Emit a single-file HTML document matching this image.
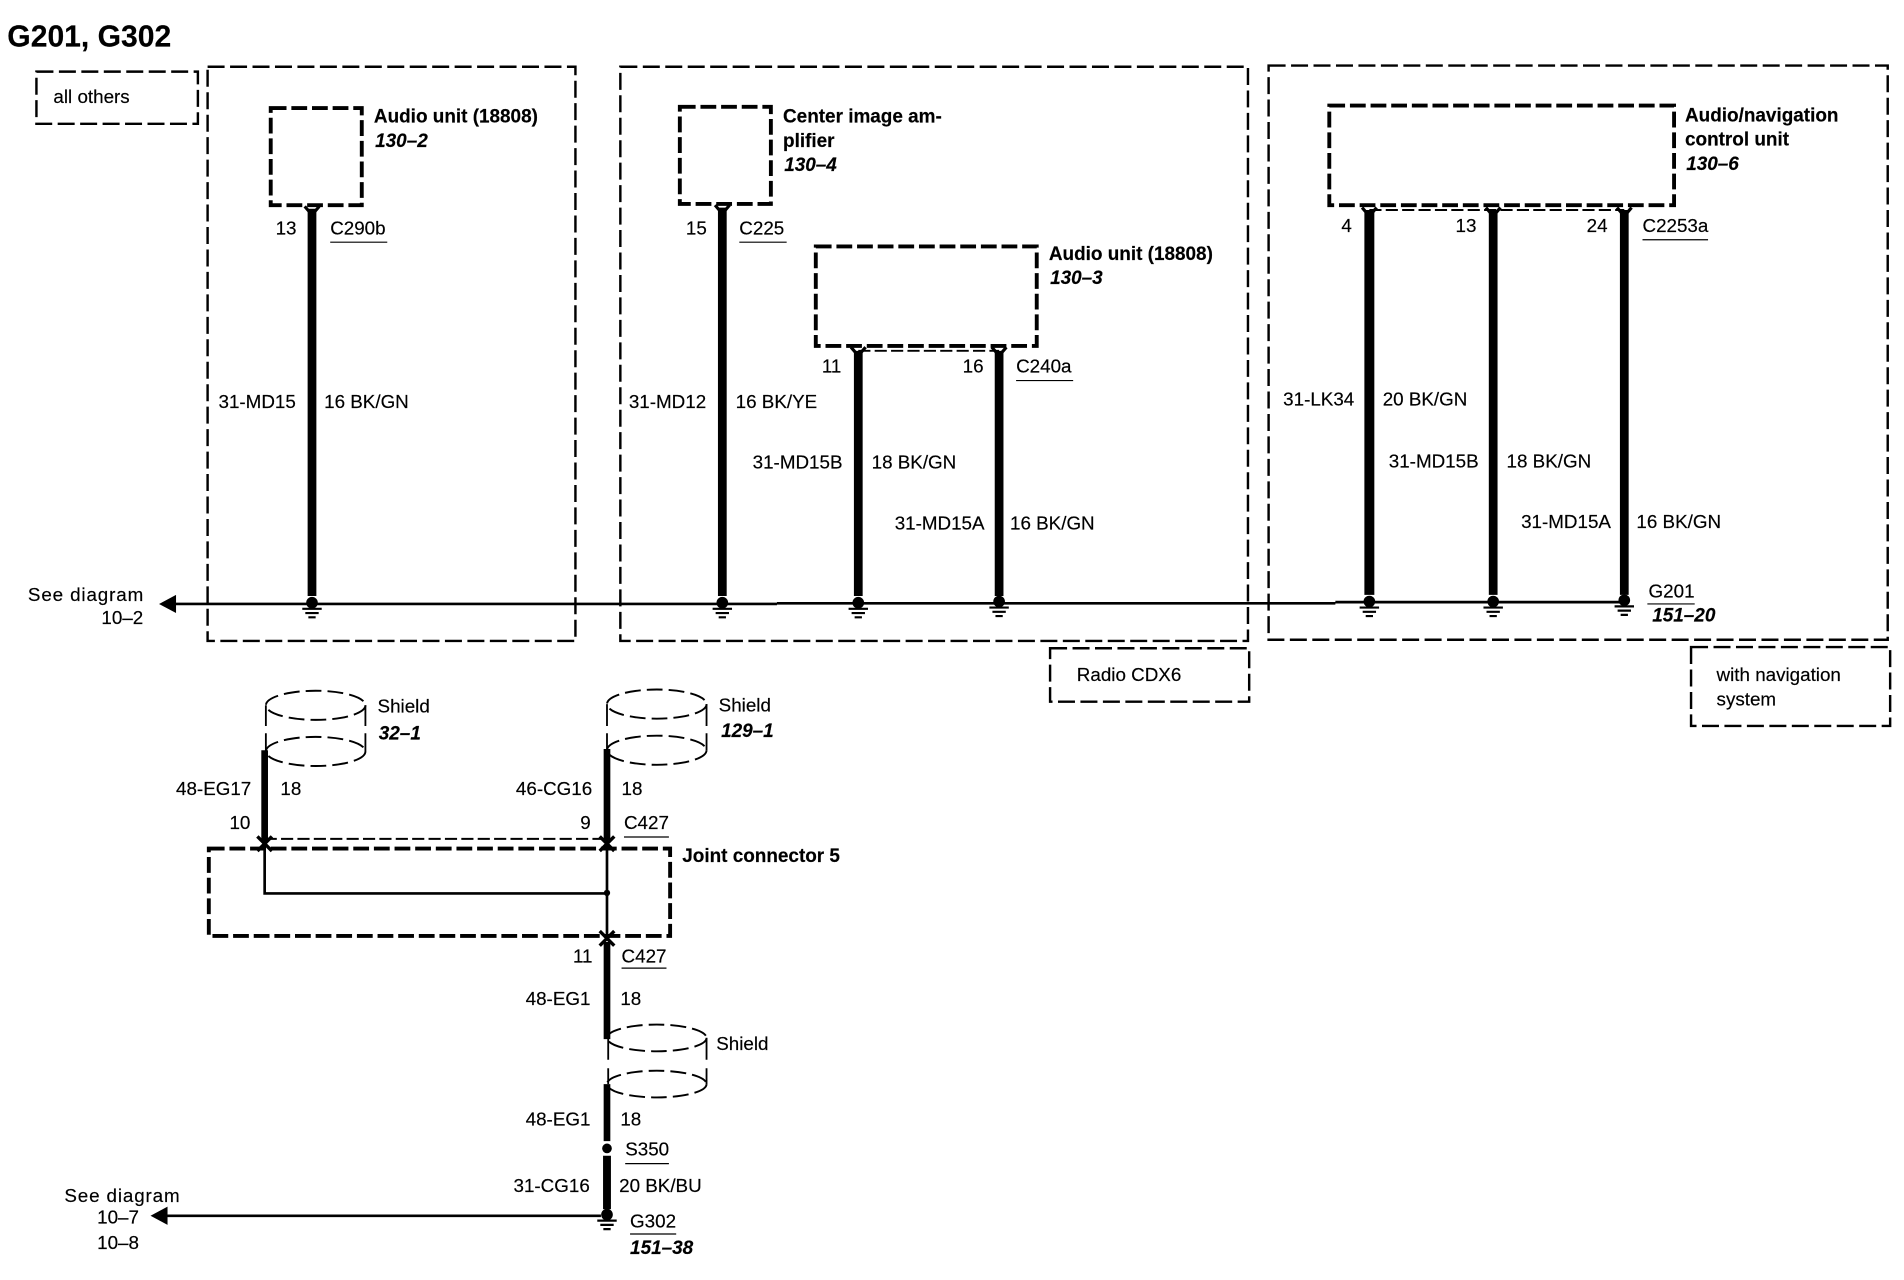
<!DOCTYPE html>
<html><head><meta charset="utf-8"><style>
html,body{margin:0;padding:0;background:#fff}
svg{display:block}
text{font-family:"Liberation Sans",Arial,sans-serif;font-size:15.5px;fill:#000;stroke:#000;stroke-width:.14px}
.b{font-weight:bold;font-size:15.6px}
.bi{font-weight:bold;font-style:italic;font-size:15.6px}
.o{fill:none;stroke:#000;stroke-width:2;stroke-dasharray:14 4.5}
.t{fill:none;stroke:#000;stroke-width:3.2;stroke-dasharray:13 4}
.d{fill:none;stroke:#000;stroke-width:1.6;stroke-dasharray:10 3.5}
.w{stroke:#000;stroke-width:7.2}
.n{stroke:#000;stroke-width:5.5}
.l{stroke:#000;stroke-width:2.2;fill:none}
.u{stroke:#000;stroke-width:1}
.c{fill:none;stroke:#000;stroke-width:1.6;stroke-dasharray:13 5}
.s{stroke:#000;stroke-width:1.5}
</style></head><body>
<svg xmlns="http://www.w3.org/2000/svg" width="1904" height="1280" viewBox="0 0 1568.4 1054.4">
<defs>
<g id="g"><circle cx="0" cy="-0.5" r="4.8" fill="#000"/><path d="M-8 4.5H8M-5.5 8H5.5M-3 11.5H3" stroke="#000" stroke-width="1.8"/></g>
<path id="f" d="M-6 0L0 7L6 0" fill="none" stroke="#000" stroke-width="2.6"/>
<path id="x" d="M-6 -6L6 6M6 -6L-6 6" fill="none" stroke="#000" stroke-width="2.8"/>
</defs>
<rect width="1568.4" height="1054.4" fill="#fff"/>
<text x="6" y="38.5" class="b" style="font-size:24.8px">G201, G302</text>

<!-- main ground line -->
<path class="l" d="M142 497.5H640M640 497H1100M1100 496H1338"/>
<path d="M131 497.5L145 490V505Z" fill="#000"/>

<!-- outer boxes -->
<rect class="o" x="30" y="59" width="133" height="43"/>
<text x="44" y="85">all others</text>
<rect class="o" x="171" y="55" width="303" height="473"/>
<rect class="o" x="511" y="55" width="517" height="473"/>
<rect class="o" x="1045" y="54" width="510" height="473"/>
<rect class="o" x="865" y="534" width="164" height="44"/>
<text x="887" y="561">Radio CDX6</text>
<rect class="o" x="1393" y="533" width="164" height="65"/>
<text x="1414" y="561">with navigation</text>
<text x="1414" y="581">system</text>

<!-- module 1 -->
<rect class="t" x="223" y="89" width="75" height="80"/>
<text x="308" y="101" class="b">Audio unit (18808)</text>
<text x="309" y="121" class="bi">130–2</text>
<line class="w" x1="257" y1="172" x2="257" y2="491"/>
<use href="#f" x="257" y="170"/>
<text x="227" y="193">13</text>
<text x="272" y="193">C290b</text><line class="u" x1="272" y1="199.5" x2="319" y2="199.5"/>
<text x="180" y="336">31-MD15</text>
<text x="267" y="336">16 BK/GN</text>
<use href="#g" x="257" y="497"/>
<text x="23" y="495" textLength="95">See diagram</text>
<text x="118" y="514" text-anchor="end">10–2</text>

<!-- module 2 -->
<rect class="t" x="560" y="88" width="75" height="80"/>
<text x="645" y="101" class="b">Center image am-</text>
<text x="645" y="121" class="b">plifier</text>
<text x="646" y="141" class="bi">130–4</text>
<line class="w" x1="595" y1="171" x2="595" y2="491"/>
<use href="#f" x="595" y="169"/>
<text x="565" y="193">15</text>
<text x="609" y="193">C225</text><line class="u" x1="609" y1="199.5" x2="648" y2="199.5"/>
<text x="518" y="336">31-MD12</text>
<text x="606" y="336">16 BK/YE</text>
<use href="#g" x="595" y="497"/>

<!-- module 3 -->
<rect class="t" x="672" y="203" width="182" height="82"/>
<text x="864" y="214" class="b">Audio unit (18808)</text>
<text x="865" y="234" class="bi">130–3</text>
<line class="d" x1="707" y1="289" x2="823" y2="289"/>
<line class="w" x1="707" y1="289" x2="707" y2="491"/>
<line class="w" x1="823" y1="289" x2="823" y2="491"/>
<use href="#f" x="707" y="286"/><use href="#f" x="823" y="286"/>
<text x="677" y="307">11</text>
<text x="793" y="307">16</text>
<text x="837" y="307">C240a</text><line class="u" x1="837" y1="313.5" x2="884" y2="313.5"/>
<text x="620" y="386">31-MD15B</text>
<text x="718" y="386">18 BK/GN</text>
<text x="737" y="436">31-MD15A</text>
<text x="832" y="436">16 BK/GN</text>
<use href="#g" x="707" y="497"/><use href="#g" x="823" y="496"/>

<!-- module 4 -->
<rect class="t" x="1095" y="87" width="284" height="82"/>
<text x="1388" y="100" class="b">Audio/navigation</text>
<text x="1388" y="120" class="b">control unit</text>
<text x="1389" y="140" class="bi">130–6</text>
<line class="d" x1="1128" y1="173" x2="1338" y2="173"/>
<line class="w" x1="1128" y1="173" x2="1128" y2="490" style="stroke-width:8.2"/>
<line class="w" x1="1230" y1="173" x2="1230" y2="490"/>
<line class="w" x1="1338" y1="173" x2="1338" y2="490"/>
<use href="#f" x="1128" y="171"/><use href="#f" x="1230" y="171"/><use href="#f" x="1338" y="171"/>
<text x="1105" y="191">4</text>
<text x="1199" y="191">13</text>
<text x="1307" y="191">24</text>
<text x="1353" y="191">C2253a</text><line class="u" x1="1353" y1="197.5" x2="1407" y2="197.5"/>
<text x="1057" y="334">31-LK34</text>
<text x="1139" y="334">20 BK/GN</text>
<text x="1144" y="385">31-MD15B</text>
<text x="1241" y="385">18 BK/GN</text>
<text x="1253" y="435">31-MD15A</text>
<text x="1348" y="435">16 BK/GN</text>
<use href="#g" x="1128" y="496"/><use href="#g" x="1230" y="496"/><use href="#g" x="1338" y="495"/>
<text x="1358" y="492">G201</text><line class="u" x1="1357" y1="497.5" x2="1396" y2="497.5"/>
<text x="1361" y="512" class="bi">151–20</text>

<!-- shields -->
<ellipse class="c" cx="260" cy="581" rx="41" ry="12"/>
<ellipse class="c" cx="260" cy="619" rx="41" ry="12"/>
<path class="s" d="M219 581V598M219 604V619M301 581V598M301 604V619"/>
<text x="311" y="587">Shield</text>
<text x="312" y="609" class="bi">32–1</text>

<ellipse class="c" cx="541" cy="580" rx="41" ry="12"/>
<ellipse class="c" cx="541" cy="618" rx="41" ry="12"/>
<path class="s" d="M500 580V598M500 604V618M582 580V598M582 604V618"/>
<text x="592" y="586">Shield</text>
<text x="594" y="607" class="bi">129–1</text>

<!-- joint connector -->
<line class="n" x1="218" y1="618" x2="218" y2="692"/>
<line class="n" x1="500" y1="617" x2="500" y2="692"/>
<text x="145" y="655">48-EG17</text>
<text x="231" y="655">18</text>
<text x="189" y="683">10</text>
<text x="425" y="655">46-CG16</text>
<text x="512" y="655">18</text>
<text x="478" y="683">9</text>
<text x="514" y="683">C427</text><line class="u" x1="514" y1="689.5" x2="551" y2="689.5"/>
<line class="d" x1="218" y1="691" x2="500" y2="691"/>
<rect class="t" x="172" y="699" width="380" height="72"/>
<text x="562" y="710" class="b">Joint connector 5</text>
<path class="l" d="M218 692V736H500M500 692V772"/>
<circle cx="500" cy="735.5" r="2.6" fill="#000"/>
<use href="#x" x="218" y="695"/><use href="#x" x="500" y="695"/><use href="#x" x="500" y="773"/>

<!-- lower wire -->
<text x="472" y="793">11</text>
<text x="512" y="793">C427</text><line class="u" x1="512" y1="797.5" x2="549" y2="797.5"/>
<line class="n" x1="500" y1="776" x2="500" y2="856"/>
<text x="433" y="828">48-EG1</text>
<text x="511" y="828">18</text>
<ellipse class="c" cx="541" cy="855" rx="41" ry="11"/>
<ellipse class="c" cx="541" cy="893" rx="41" ry="11"/>
<path class="s" d="M501 855V873M501 880V893M582 855V873M582 880V893"/>
<text x="590" y="865">Shield</text>
<line class="n" x1="500" y1="893" x2="500" y2="940"/>
<text x="433" y="927">48-EG1</text>
<text x="511" y="927">18</text>
<circle cx="500" cy="946" r="4" fill="#000"/>
<text x="515" y="952">S350</text><line class="u" x1="515" y1="958.5" x2="551" y2="958.5"/>
<line class="n" x1="500" y1="952" x2="500" y2="996" style="stroke-width:6.5"/>
<text x="423" y="982">31-CG16</text>
<text x="510" y="982">20 BK/BU</text>
<use href="#g" x="500" y="1001"/>
<text x="519" y="1011">G302</text><line class="u" x1="519" y1="1016.5" x2="557" y2="1016.5"/>
<text x="519" y="1033" class="bi">151–38</text>
<path class="l" d="M136 1001.5H495"/>
<path d="M124 1001.5L138 994V1009Z" fill="#000"/>
<text x="53" y="990" textLength="95">See diagram</text>
<text x="80" y="1008">10–7</text>
<text x="80" y="1029">10–8</text>
</svg>
</body></html>
